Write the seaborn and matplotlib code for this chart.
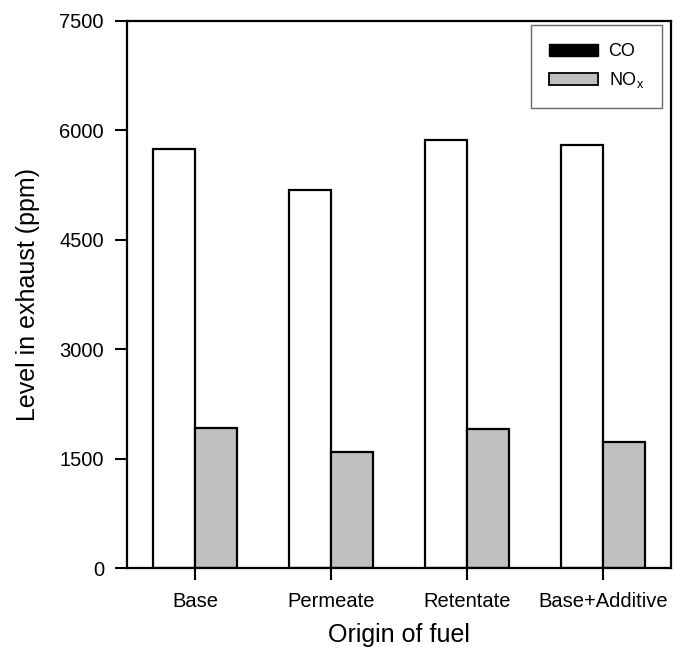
import numpy as np
import pandas as pd
import matplotlib
matplotlib.use("Agg")
import matplotlib.pyplot as plt
from matplotlib.patches import Patch
import seaborn as sns

fuels = ["Base", "Permeate", "Retentate", "Base+Additive"]
co_ppm = [5750, 5180, 5870, 5800]
nox_ppm = [1920, 1590, 1900, 1730]
y_ticks = [0, 1500, 3000, 4500, 6000, 7500]

df = pd.DataFrame({
    "fuel": fuels * 2,
    "level": co_ppm + nox_ppm,
    "gas": ["CO"] * len(fuels) + ["NOx"] * len(fuels),
})

sns.set_style("ticks")
plt.rcParams["font.family"] = ["Liberation Sans", "DejaVu Sans"]
plt.rcParams["text.color"] = "black"
plt.rcParams["axes.labelcolor"] = "black"
plt.rcParams["xtick.color"] = "black"
plt.rcParams["ytick.color"] = "black"

fig = plt.figure(figsize=(6.76, 6.52), dpi=100)
ax = fig.add_axes([127 / 676, 1 - 568 / 652, (671 - 127) / 676, (568 - 21) / 652])

sns.barplot(data=df, x="fuel", y="level", hue="gas", order=fuels,
            hue_order=["CO", "NOx"], palette={"CO": "white", "NOx": "#c0c0c0"},
            width=0.62, gap=0, edgecolor="black", linewidth=1.6,
            legend=False, ax=ax)

ax.set_xlim(-0.5, 3.5)
ax.set_ylim(0, 7500)
ax.set_yticks(y_ticks)
ax.tick_params(axis="both", direction="out", length=8.6, width=1.5,
               labelsize=14.5)
ax.tick_params(axis="x", pad=9)
ax.tick_params(axis="y", pad=8)
for s in ax.spines.values():
    s.set_linewidth(1.6)
    s.set_color("black")

ax.set_xlabel("Origin of fuel", fontsize=18, labelpad=8)
ax.set_ylabel("Level in exhaust (ppm)", fontsize=18, labelpad=14)

# la legenda originale mostra CO in nero anche se le barre sono bianche
handles = [Patch(facecolor="black", edgecolor="black", label="CO"),
           Patch(facecolor="#c0c0c0", edgecolor="black", linewidth=1.3,
                 label="NO$_\\mathregular{x}$")]
leg = ax.legend(handles=handles, loc="upper right",
                bbox_to_anchor=((662 - 127) / 544, 1 - 4 / 547),
                borderaxespad=0, fontsize=13, frameon=True, fancybox=False,
                handlelength=2.7, handleheight=0.66, handletextpad=0.6,
                borderpad=1.0, labelspacing=0.55)
leg.get_frame().set_edgecolor("#444444")
leg.get_frame().set_linewidth(1.0)

fig.savefig("out.png", dpi=100)
